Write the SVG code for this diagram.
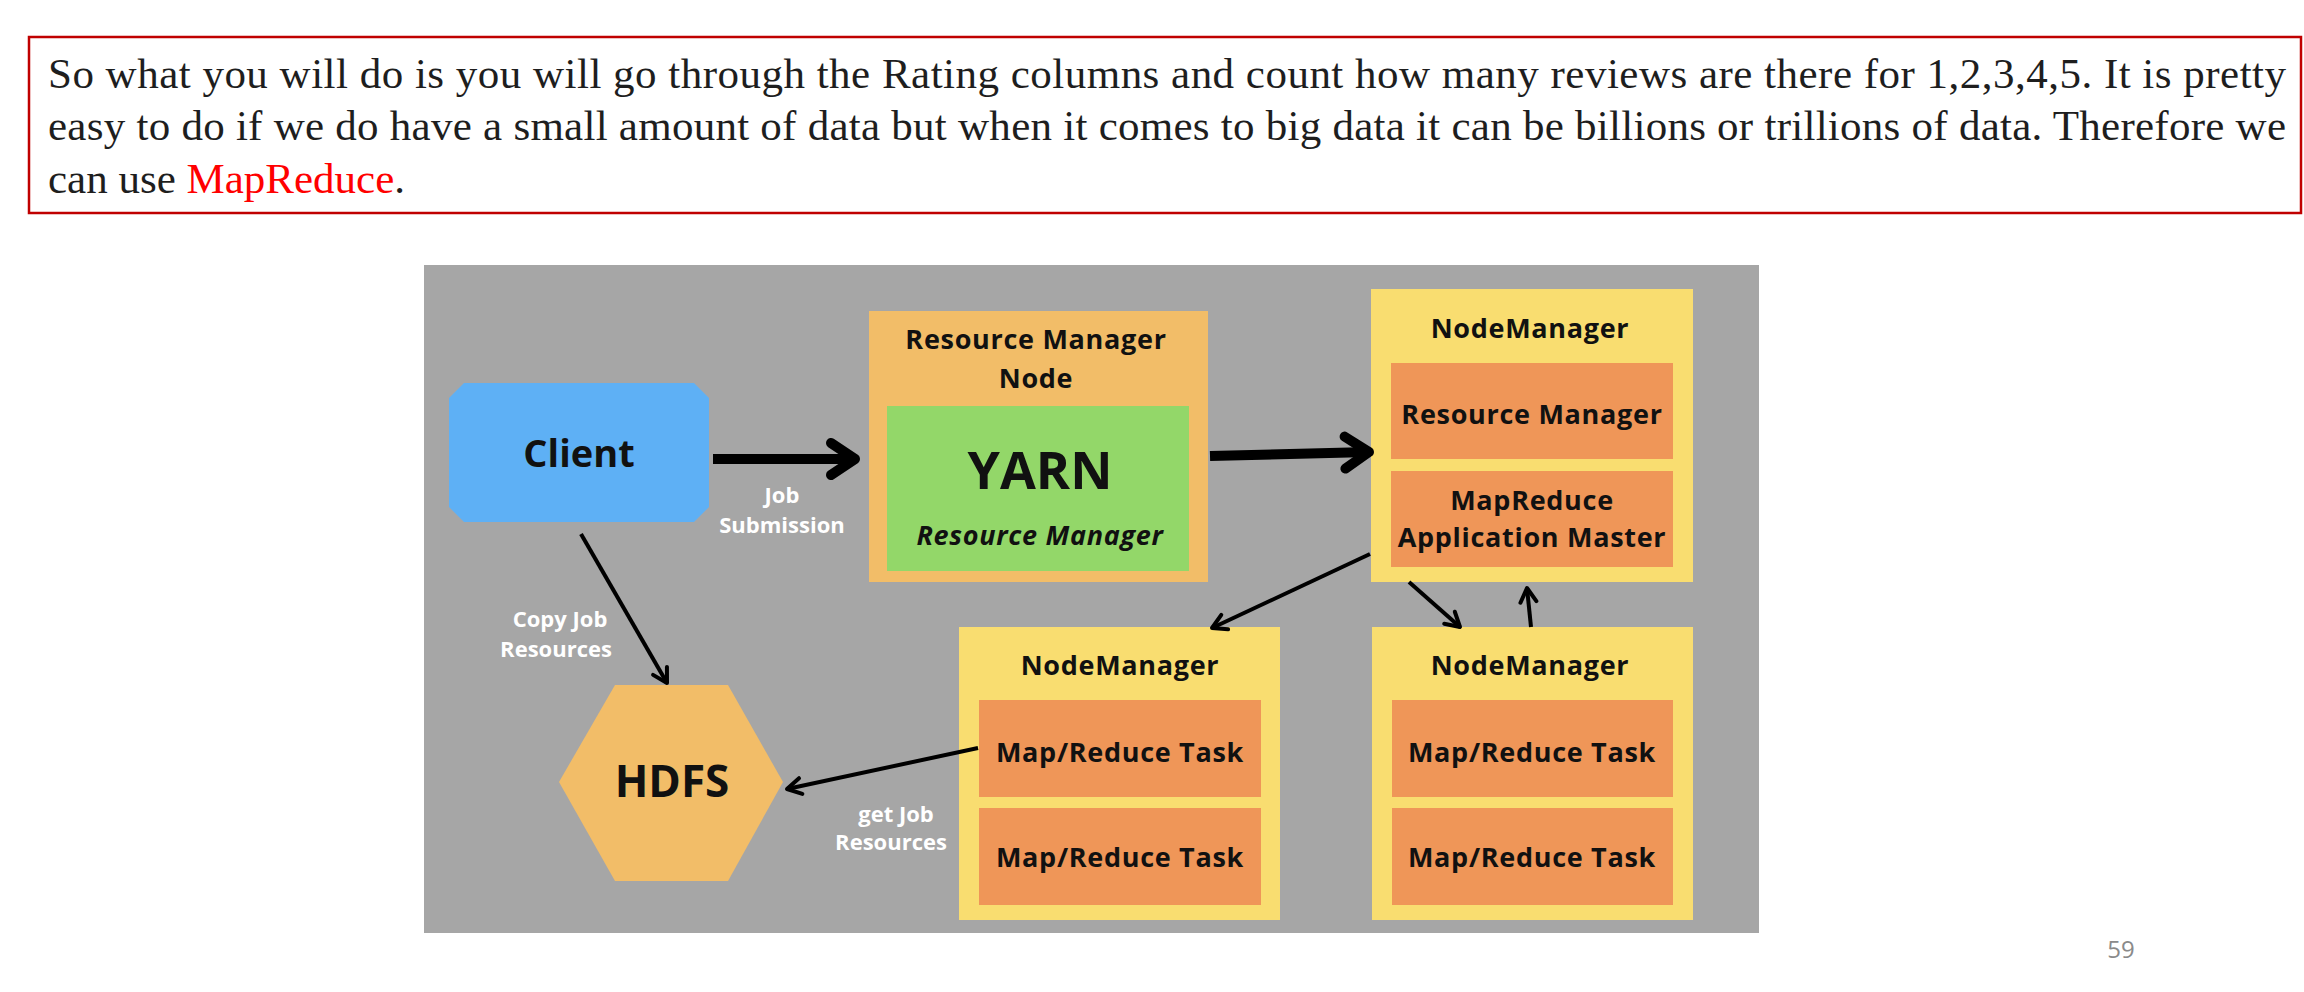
<svg xmlns="http://www.w3.org/2000/svg" width="2304" height="992" viewBox="0 0 2304 992">
<style>
.para{font-family:"Liberation Serif","Times New Roman",serif;font-size:43px;fill:#1e1e1e}
.lbl{font-family:"Open Sans","Noto Sans",sans-serif;font-weight:700;fill:#111;text-anchor:middle}
.t26{font-size:27px;letter-spacing:0.7px}
.wl{font-family:"Open Sans","Noto Sans",sans-serif;font-weight:700;font-size:22px;fill:#ffffff;text-anchor:middle}
.nm{fill:#f9dd70}
.task{fill:#ef9658}
.thick{stroke:#000;stroke-width:10;fill:none;marker-end:url(#big)}
.thin{stroke:#000;stroke-width:4;fill:none;marker-end:url(#small)}
</style>
<defs>
<marker id="big" markerUnits="userSpaceOnUse" viewBox="-32 -24 40 48" markerWidth="40" markerHeight="48" refX="0" refY="0" orient="auto" overflow="visible">
<path d="M -24 -16 L 0 0 L -24 16" fill="none" stroke="#000" stroke-width="10" stroke-linecap="round" stroke-linejoin="round"/>
</marker>
<marker id="small" markerUnits="userSpaceOnUse" viewBox="-20 -12 24 24" markerWidth="24" markerHeight="24" refX="0" refY="0" orient="auto" overflow="visible">
<path d="M -14 -8 L 0 0 L -14 8" fill="none" stroke="#000" stroke-width="4" stroke-linecap="round" stroke-linejoin="round"/>
</marker>
</defs>
<rect width="2304" height="992" fill="#ffffff"/>
<g id="textbox">
<rect x="29" y="37" width="2272" height="176" fill="#ffffff" stroke="#c00000" stroke-width="2.5"/>
<text class="para" x="48" y="88" textLength="2238" lengthAdjust="spacing">So what you will do is you will go through the Rating columns and count how many reviews are there for 1,2,3,4,5. It is pretty</text>
<text class="para" x="48" y="140" textLength="2238" lengthAdjust="spacing">easy to do if we do have a small amount of data but when it comes to big data it can be billions or trillions of data. Therefore we</text>
<text class="para" x="48" y="193">can use <tspan fill="#ff0000">MapReduce</tspan>.</text>
</g>
<rect id="background" x="424" y="265" width="1335" height="668" fill="#a6a6a6"/>
<g id="client">
<polygon points="464,383 694,383 709,398 709,507 694,522 464,522 449,507 449,398" fill="#5eb0f5"/>
<text class="lbl" x="579" y="467" font-size="38">Client</text>
</g>
<g id="rm-node">
<rect x="869" y="311" width="339" height="271" fill="#f2bd68"/>
<text class="lbl t26" x="1036" y="349">Resource Manager</text>
<text class="lbl t26" x="1036" y="388">Node</text>
<rect x="887" y="406" width="302" height="165" fill="#93d769"/>
<text class="lbl" x="1040" y="489" font-size="52">YARN</text>
<text class="lbl t26" x="1040" y="545" font-style="italic" font-weight="600" letter-spacing="1">Resource Manager</text>
</g>
<g id="nm-top">
<rect class="nm" x="1371" y="289" width="322" height="293"/>
<text class="lbl t26" x="1530" y="338">NodeManager</text>
<rect class="task" x="1391" y="363" width="282" height="96"/>
<text class="lbl t26" x="1532" y="424">Resource Manager</text>
<rect class="task" x="1391" y="471" width="282" height="96"/>
<text class="lbl t26" x="1532" y="510">MapReduce</text>
<text class="lbl t26" x="1532" y="547">Application Master</text>
</g>
<g id="nm-left">
<rect class="nm" x="959" y="627" width="321" height="293"/>
<text class="lbl t26" x="1120" y="675">NodeManager</text>
<rect class="task" x="979" y="700" width="282" height="97"/>
<text class="lbl t26" x="1120" y="762">Map/Reduce Task</text>
<rect class="task" x="979" y="808" width="282" height="97"/>
<text class="lbl t26" x="1120" y="867">Map/Reduce Task</text>
</g>
<g id="nm-right">
<rect class="nm" x="1372" y="627" width="321" height="293"/>
<text class="lbl t26" x="1530" y="675">NodeManager</text>
<rect class="task" x="1392" y="700" width="281" height="97"/>
<text class="lbl t26" x="1532" y="762">Map/Reduce Task</text>
<rect class="task" x="1392" y="808" width="281" height="97"/>
<text class="lbl t26" x="1532" y="867">Map/Reduce Task</text>
</g>
<g id="hdfs">
<polygon points="559,782 615,685 728,685 783,782 728,881 615,881" fill="#f2bd68"/>
<text class="lbl" x="672" y="797" font-size="44">HDFS</text>
</g>
<g id="connectors">
<line class="thick" x1="713" y1="459" x2="855" y2="459"/>
<line class="thick" x1="1210" y1="456" x2="1369" y2="452"/>
<line class="thin" x1="581" y1="534" x2="667" y2="683"/>
<line class="thin" x1="1370" y1="554" x2="1212" y2="628"/>
<line class="thin" x1="1409" y1="582" x2="1460" y2="627"/>
<line class="thin" x1="1531" y1="627" x2="1527" y2="588"/>
<line class="thin" x1="978" y1="748" x2="787" y2="789"/>
<text class="wl" x="782" y="503">Job</text>
<text class="wl" x="782" y="533">Submission</text>
<text class="wl" x="560" y="627">Copy Job</text>
<text class="wl" x="556" y="657">Resources</text>
<text class="wl" x="896" y="822">get Job</text>
<text class="wl" x="891" y="850">Resources</text>
</g>
<text x="2121" y="958" font-family="'Open Sans','Noto Sans',sans-serif" font-size="24" fill="#8a8a8a" text-anchor="middle">59</text>
</svg>
